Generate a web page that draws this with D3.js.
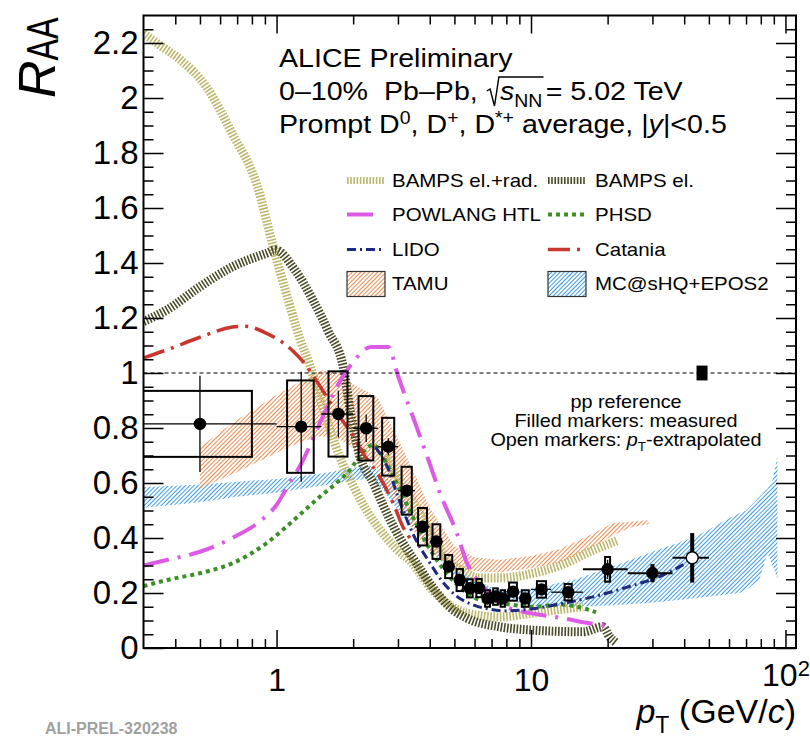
<!DOCTYPE html>
<html>
<head>
<meta charset="utf-8">
<script src="https://cdn.jsdelivr.net/npm/d3@7"></script>
<style>
  body { margin: 0; background: #fff; }
  text { font-family: "Liberation Sans", Arial, Helvetica, sans-serif; white-space: pre; }
</style>
</head>
<body>
<svg id="chart" width="810" height="739"></svg>
<script>
// ---- measured D-meson RAA (0-10%) ----
const ptLow    = [0, 1, 1.5, 2, 2.5, 3, 3.5, 4, 4.5, 5, 5.5, 6, 6.5, 7, 7.5, 8, 9, 10, 12, 16, 24, 36];
const ptHigh   = [1, 1.5, 2, 2.5, 3, 3.5, 4, 4.5, 5, 5.5, 6, 6.5, 7, 7.5, 8, 9, 10, 12, 16, 24, 36, 50];
const ptCenter = [0.5, 1.25, 1.75, 2.25, 2.75, 3.25, 3.75, 4.25, 4.75, 5.25, 5.75, 6.25, 6.75, 7.25, 7.75, 8.5, 9.5, 11, 14, 20, 30, 43];
const raaVal   = [0.815, 0.805, 0.851, 0.799, 0.732, 0.572, 0.441, 0.387, 0.296, 0.247, 0.217, 0.218, 0.18, 0.187, 0.18, 0.205, 0.18, 0.213, 0.203, 0.286, 0.272, 0.328];
const statErr  = [0.175, 0.2, 0.085, 0.05, 0.031, 0.02, 0.015, 0.012, 0.01, 0.01, 0.01, 0.01, 0.01, 0.01, 0.01, 0.01, 0.012, 0.012, 0.012, 0.035, 0.033, 0.09];
const sysErr   = [0.12, 0.168, 0.155, 0.117, 0.105, 0.087, 0.068, 0.063, 0.042, 0.04, 0.033, 0.033, 0.03, 0.03, 0.03, 0.033, 0.03, 0.03, 0.03, 0.045, 0.018, 0.02];
const extrapolated = [false, false, false, false, false, false, false, false, false, false, false, false, false, false, false, false, false, false, false, false, false, true];
const ppRefPt = 47;
const ppRefUnc = 0.027;

// ---- model curves ----
const bampsElRadPt  = [0.3, 0.35, 0.42, 0.53, 0.67, 0.84, 0.97, 1.1, 1.24, 1.35, 1.48, 1.6, 1.8, 2.0, 2.26, 2.55, 2.96, 3.4, 4.1, 4.66, 5.58, 7.5, 10.2, 13, 16];
const bampsElRadVal = [2.235, 2.19, 2.138, 2.04, 1.87, 1.68, 1.46, 1.28, 1.12, 1.03, 0.91, 0.81, 0.68, 0.59, 0.5, 0.43, 0.36, 0.31, 0.21, 0.164, 0.127, 0.113, 0.127, 0.14, 0.15];
const bampsElRadHighPt  = [2.7, 3.2, 3.7, 4.2, 4.7, 5.4, 6.2, 7.5, 10, 13, 17, 21.7];
const bampsElRadHighVal = [0.7, 0.58, 0.48, 0.39, 0.32, 0.28, 0.255, 0.255, 0.27, 0.3, 0.35, 0.39];
const bampsElPt  = [0.3, 0.37, 0.5, 0.67, 0.91, 0.99, 1.18, 1.39, 1.6, 1.83, 1.95, 2.12, 2.4, 2.62, 3.05, 3.54, 4.1, 4.79, 5.58, 7.53, 10.2, 16, 19.1, 20.4, 21.7];
const bampsElVal = [1.187, 1.229, 1.314, 1.386, 1.435, 1.447, 1.375, 1.265, 1.15, 1.02, 0.86, 0.7, 0.6, 0.52, 0.4, 0.309, 0.222, 0.149, 0.109, 0.077, 0.065, 0.059, 0.077, 0.04, 0.018];
const powlangPt  = [0.3, 0.37, 0.5, 0.67, 0.91, 1.0, 1.1, 1.25, 1.5, 1.75, 2.0, 2.35, 2.75, 3.0, 3.5, 4.0, 4.4, 5.1, 5.6, 6.7, 8, 10.2, 13, 17, 20];
const powlangVal = [0.3, 0.32, 0.35, 0.4, 0.48, 0.52, 0.585, 0.67, 0.83, 0.96, 1.04, 1.095, 1.095, 0.99, 0.82, 0.67, 0.56, 0.42, 0.31, 0.21, 0.15, 0.125, 0.11, 0.09, 0.08];
const phsdPt  = [0.3, 0.37, 0.5, 0.67, 0.91, 1.09, 1.27, 1.48, 1.72, 1.94, 2.12, 2.4, 2.6, 3.0, 3.5, 4.0, 5.0, 6.3, 8, 10.2, 13, 16, 18];
const phsdVal = [0.225, 0.247, 0.272, 0.308, 0.38, 0.44, 0.495, 0.55, 0.6, 0.647, 0.695, 0.74, 0.7, 0.59, 0.46, 0.36, 0.24, 0.175, 0.16, 0.15, 0.158, 0.145, 0.13];
const lidoPt  = [2.45, 2.75, 3.0, 3.5, 4.0, 4.5, 5.0, 6.0, 7.0, 8.0, 10, 13, 17.5, 24, 32, 41];
const lidoVal = [0.73, 0.65, 0.55, 0.4, 0.31, 0.24, 0.195, 0.155, 0.14, 0.135, 0.142, 0.16, 0.186, 0.222, 0.26, 0.31];
const cataniaPt  = [0.3, 0.37, 0.5, 0.67, 0.75, 0.91, 1.16, 1.3, 1.45, 1.7, 2.0, 2.2, 2.55, 2.87, 3.14, 3.4];
const cataniaVal = [1.055, 1.084, 1.13, 1.167, 1.17, 1.145, 1.08, 1.03, 0.965, 0.865, 0.77, 0.705, 0.62, 0.527, 0.44, 0.39];
const tamuPt = [0.5, 0.7, 1.0, 1.25, 1.5, 1.75, 2.0, 2.5, 3.0, 3.5, 4.0, 5.0, 6.0, 7.5, 10, 13, 17, 21, 25, 29];
const tamuLo = [0.58, 0.64, 0.71, 0.75, 0.77, 0.76, 0.73, 0.65, 0.52, 0.42, 0.35, 0.29, 0.28, 0.275, 0.29, 0.31, 0.36, 0.41, 0.44, 0.45];
const tamuHi = [0.73, 0.83, 0.92, 0.97, 1.01, 1.0, 0.96, 0.91, 0.76, 0.63, 0.51, 0.37, 0.33, 0.32, 0.335, 0.36, 0.41, 0.455, 0.46, 0.465];
const mcshqPt = [0.3, 0.5, 0.7, 1.0, 1.5, 2.0, 2.3, 2.6, 3.0, 3.5, 4.0, 5.0, 6.0, 7.0, 8.5, 10, 12, 15, 20, 30, 43, 50, 58, 66, 70, 79, 85, 89, 93];
const mcshqLo = [0.51, 0.53, 0.55, 0.565, 0.59, 0.61, 0.615, 0.58, 0.5, 0.43, 0.36, 0.26, 0.21, 0.185, 0.17, 0.155, 0.15, 0.15, 0.155, 0.165, 0.18, 0.186, 0.195, 0.2, 0.21, 0.25, 0.345, 0.3, 0.25];
const mcshqHi = [0.585, 0.595, 0.605, 0.615, 0.635, 0.655, 0.665, 0.64, 0.57, 0.49, 0.42, 0.3, 0.25, 0.22, 0.21, 0.215, 0.23, 0.25, 0.29, 0.35, 0.4, 0.43, 0.465, 0.49, 0.5, 0.55, 0.58, 0.61, 0.7];

// ---- axes ticks ----
const xMajor = [1, 10, 100];
const xMinor = [0.4, 0.5, 0.6, 0.7, 0.8, 0.9, 2, 3, 4, 5, 6, 7, 8, 9, 20, 30, 40, 50, 60, 70, 80, 90];
const yMajor = [0, 0.2, 0.4, 0.6, 0.8, 1, 1.2, 1.4, 1.6, 1.8, 2, 2.2];
const yMinor = d3.range(0.05, 2.3, 0.05).filter(v => Math.abs(v * 5 - Math.round(v * 5)) > 1e-6);

const svg = d3.select("#chart");
const x = d3.scaleLog().domain([0.3, 110]).range([143.5, 796]);
const y = d3.scaleLinear().domain([0, 2.3]).range([648, 15.5]);
const x0 = x.range()[0], x1 = x.range()[1], y0 = y.range()[0], y1 = y.range()[1];

const defs = svg.append("defs");
defs.append("clipPath").attr("id", "plotClip")
    .append("rect").attr("x", x0).attr("y", y1).attr("width", x1 - x0).attr("height", y0 - y1);

function hatch(id, color) {
    const p = defs.append("pattern").attr("id", id)
        .attr("patternUnits", "userSpaceOnUse")
        .attr("width", 3).attr("height", 3)
        .attr("patternTransform", "rotate(45)");
    p.append("line").attr("x1", 0).attr("y1", 0).attr("x2", 0).attr("y2", 3)
        .attr("stroke", color).attr("stroke-width", 2);
}
hatch("hatchTamu", "#ef8a4c");
hatch("hatchMc", "#3d9ce6");

const plot = svg.append("g").attr("clip-path", "url(#plotClip)");

// bands
function band(pts, lo, hi, fill) {
    const rows = pts.map((p, i) => ({ p, lo: lo[i], hi: hi[i] }));
    plot.append("path").datum(rows)
        .attr("d", d3.area().x(d => x(d.p)).y0(d => y(d.lo)).y1(d => y(d.hi)))
        .attr("fill", fill);
}
band(mcshqPt, mcshqLo, mcshqHi, "url(#hatchMc)");
band(tamuPt, tamuLo, tamuHi, "url(#hatchTamu)");

// lines
const styles = {
    bampsElRad: { stroke: "#bdb76b", width: 9, dash: "1.6,1.6" },
    bampsEl:    { stroke: "#4a4a28", width: 9, dash: "1.6,1.6" },
    powlang:    { stroke: "#dd5ae6", width: 4, dash: "26,9,3,9" },
    phsd:       { stroke: "#3b8f23", width: 4, dash: "4,4" },
    lido:       { stroke: "#1c2a80", width: 3, dash: "9,4,2,4" },
    catania:    { stroke: "#c8372d", width: 3.5, dash: "22,7,3,7" }
};
function curve(pts, vals, st) {
    const rows = pts.map((p, i) => ({ p, v: vals[i] }));
    plot.append("path").datum(rows)
        .attr("d", d3.line().x(d => x(d.p)).y(d => y(d.v)).curve(d3.curveMonotoneX))
        .attr("fill", "none").attr("stroke", st.stroke)
        .attr("stroke-width", st.width).attr("stroke-dasharray", st.dash);
}
curve(bampsElRadPt, bampsElRadVal, styles.bampsElRad);
curve(bampsElRadHighPt, bampsElRadHighVal, styles.bampsElRad);
curve(bampsElPt, bampsElVal, styles.bampsEl);
curve(powlangPt, powlangVal, styles.powlang);
curve(phsdPt, phsdVal, styles.phsd);
curve(lidoPt, lidoVal, styles.lido);
curve(cataniaPt, cataniaVal, styles.catania);

// unity line
plot.append("line").attr("x1", x0).attr("x2", x1).attr("y1", y(1)).attr("y2", y(1))
    .attr("stroke", "#000").attr("stroke-width", 1).attr("stroke-dasharray", "4,3");

// pp normalisation box
plot.append("rect").attr("x", x(ppRefPt) - 5.5).attr("width", 11)
    .attr("y", y(1 + ppRefUnc)).attr("height", y(1 - ppRefUnc) - y(1 + ppRefUnc))
    .attr("fill", "#000");

// data points
const points = ptCenter.map((p, i) => ({
    p, lo: ptLow[i], hi: ptHigh[i], v: raaVal[i], stat: statErr[i], sys: sysErr[i], open: extrapolated[i]
}));
const dataG = plot.append("g");
points.forEach(d => {
    const half = Math.min(0.3 * (d.hi - d.lo), 0.45);
    const bl = Math.max(d.p - half, 0.2);
    dataG.append("rect")
        .attr("x", x(bl)).attr("width", x(d.p + half) - x(bl))
        .attr("y", y(d.v + d.sys)).attr("height", y(d.v - d.sys) - y(d.v + d.sys))
        .attr("fill", "none").attr("stroke", "#000").attr("stroke-width", 2);
    dataG.append("line")
        .attr("x1", x(Math.max(d.lo, 0.3))).attr("x2", x(d.hi))
        .attr("y1", y(d.v)).attr("y2", y(d.v))
        .attr("stroke", "#000").attr("stroke-width", d.p > 15 ? 2 : 1.3);
    dataG.append("line")
        .attr("x1", x(d.p)).attr("x2", x(d.p))
        .attr("y1", y(d.v - d.stat)).attr("y2", y(d.v + d.stat))
        .attr("stroke", "#000").attr("stroke-width", d.p > 25 ? 4 : 1.3);
    dataG.append("circle")
        .attr("cx", x(d.p)).attr("cy", y(d.v)).attr("r", d.open ? 6 : 5.5)
        .attr("fill", d.open ? "#fff" : "#000")
        .attr("stroke", "#000").attr("stroke-width", 1.5);
});

// axes
function styleAxis(g) {
    g.select(".domain").remove();
    g.selectAll(".tick line").attr("stroke", "#000").attr("stroke-width", 1.5);
}
const noLabel = () => "";
svg.append("g").attr("transform", `translate(0,${y0})`)
    .call(d3.axisBottom(x).tickValues(xMajor).tickSize(-18).tickPadding(20)
        .tickFormat(d => d === 100 ? "10" : String(d)))
    .call(styleAxis)
    .call(g => g.selectAll("text").attr("font-size", 32).attr("fill", "#000")
        .attr("font-family", '"Liberation Sans", Arial, sans-serif'))
    .call(g => g.selectAll(".tick").filter(d => d === 100).select("text")
        .attr("y", 15)
        .append("tspan").attr("dy", "-0.42em").attr("font-size", 22).text("2"));
svg.append("g").attr("transform", `translate(0,${y0})`)
    .call(d3.axisBottom(x).tickValues(xMinor).tickSize(-9).tickFormat(noLabel)).call(styleAxis);
svg.append("g").attr("transform", `translate(0,${y1})`)
    .call(d3.axisTop(x).tickValues(xMajor).tickSize(-18).tickFormat(noLabel)).call(styleAxis);
svg.append("g").attr("transform", `translate(0,${y1})`)
    .call(d3.axisTop(x).tickValues(xMinor).tickSize(-9).tickFormat(noLabel)).call(styleAxis);

svg.append("g").attr("transform", `translate(${x0},0)`)
    .call(d3.axisLeft(y).tickValues(yMajor).tickSize(-20).tickPadding(5)
        .tickFormat(d => String(+d.toFixed(1))))
    .call(styleAxis)
    .call(g => g.selectAll("text").attr("font-size", 33).attr("fill", "#000")
        .attr("font-family", '"Liberation Sans", Arial, sans-serif'));
svg.append("g").attr("transform", `translate(${x0},0)`)
    .call(d3.axisLeft(y).tickValues(yMinor).tickSize(-10).tickFormat(noLabel)).call(styleAxis);
svg.append("g").attr("transform", `translate(${x1},0)`)
    .call(d3.axisRight(y).tickValues(yMajor).tickSize(-20).tickFormat(noLabel)).call(styleAxis);
svg.append("g").attr("transform", `translate(${x1},0)`)
    .call(d3.axisRight(y).tickValues(yMinor).tickSize(-10).tickFormat(noLabel)).call(styleAxis);

svg.append("rect").attr("x", x0).attr("y", y1).attr("width", x1 - x0).attr("height", y0 - y1)
    .attr("fill", "none").attr("stroke", "#000").attr("stroke-width", 2);

// rich text helper: parts {t, italic, sub, sup}
function richText(parent, px, py, size, sx, parts, anchor) {
    const g = parent.append("g").attr("transform", `translate(${px},${py}) scale(${sx},1)`);
    const txt = g.append("text").attr("font-size", size).attr("fill", "#000")
        .attr("text-anchor", anchor || "start");
    let shift = 0;
    parts.forEach(p => {
        const target = p.sub ? size * 0.28 : p.sup ? -size * 0.36 : 0;
        const ts = txt.append("tspan").attr("dy", target - shift).text(p.t);
        shift = target;
        if (p.sub || p.sup) ts.attr("font-size", size * 0.68);
        if (p.italic) ts.attr("font-style", "italic");
    });
    return { g, txt };
}

// header block
const hs = 26, hsx = 1.1;
richText(svg, 279, 67, hs, hsx, [{ t: "ALICE Preliminary" }]);
{
    const first = richText(svg, 279, 100, hs, hsx, [{ t: "0\u201310%  Pb\u2013Pb, " }]);
    const w1 = first.txt.node().getComputedTextLength();
    const sPart = first.g.append("text").attr("x", w1 + 13).attr("font-size", hs);
    sPart.append("tspan").attr("font-style", "italic").text("s");
    sPart.append("tspan").attr("dy", hs * 0.25).attr("font-size", hs * 0.68).text("NN");
    const wS = sPart.node().getComputedTextLength();
    first.g.append("path")
        .attr("d", `M${w1 + 1},-9 L${w1 + 4},-11 L${w1 + 8},6 L${w1 + 12},-23 L${w1 + 14 + wS},-23`)
        .attr("fill", "none").attr("stroke", "#000").attr("stroke-width", 1.3);
    first.g.append("text").attr("x", w1 + 16 + wS).attr("font-size", hs).text("= 5.02 TeV");
}
richText(svg, 279, 133, hs, hsx, [
    { t: "Prompt D" }, { t: "0", sup: true }, { t: ", D" }, { t: "+", sup: true },
    { t: ", D" }, { t: "*+", sup: true }, { t: " average, |" }, { t: "y", italic: true }, { t: "|<0.5" }
]);

// legend
const legend = svg.append("g");
const legRows = [
    [{ key: "bampsElRad", label: "BAMPS el.+rad." }, { key: "bampsEl", label: "BAMPS el." }],
    [{ key: "powlang", label: "POWLANG HTL" }, { key: "phsd", label: "PHSD" }],
    [{ key: "lido", label: "LIDO" }, { key: "catania", label: "Catania" }],
    [{ key: "tamu", label: "TAMU", fill: "url(#hatchTamu)" }, { key: "mcshq", label: "MC@sHQ+EPOS2", fill: "url(#hatchMc)" }]
];
const legBase = [187, 221, 256, 290];
const legSymX = [347, 548];
const legTextX = [392, 595];
legRows.forEach((row, r) => {
    row.forEach((e, c) => {
        const cy = legBase[r] - 6.5;
        if (e.fill) {
            legend.append("rect").attr("x", legSymX[c]).attr("y", cy - 12).attr("width", 38).attr("height", 25)
                .attr("fill", e.fill).attr("stroke", "#333").attr("stroke-width", 1.2);
        } else {
            const st = styles[e.key];
            const len = e.key === "powlang" ? 26 : 38;
            legend.append("line").attr("x1", legSymX[c]).attr("x2", legSymX[c] + len)
                .attr("y1", cy).attr("y2", cy)
                .attr("stroke", st.stroke).attr("stroke-width", st.width > 8 ? 7 : st.width)
                .attr("stroke-dasharray", st.dash);
        }
        richText(legend, legTextX[c], legBase[r], 18.6, 1.1, [{ t: e.label }]);
    });
});

// pp reference notes
richText(svg, 626, 408, 18, 1.1, [{ t: "pp reference" }], "middle");
richText(svg, 626, 427, 18, 1.1, [{ t: "Filled markers: measured" }], "middle");
richText(svg, 626, 446, 18, 1.1, [
    { t: "Open markers: " }, { t: "p", italic: true }, { t: "T", sub: true }, { t: "-extrapolated" }
], "middle");

// axis titles
{
    const g = svg.append("g").attr("transform", "translate(55,98) rotate(-90)");
    const t = g.append("text").attr("fill", "#000");
    t.append("tspan").attr("font-size", 52).attr("font-style", "italic").text("R");
    t.append("tspan").attr("font-size", 44).attr("dy", 3)
        .attr("textLength", 43).attr("lengthAdjust", "spacingAndGlyphs").text("AA");
}
richText(svg, 796, 723, 34, 1, [
    { t: "p", italic: true }, { t: "T", sub: true }, { t: " (GeV/" }, { t: "c", italic: true }, { t: ")" }
], "end");

svg.append("text").attr("x", 45).attr("y", 734)
    .attr("font-family", '"Liberation Mono", "DejaVu Sans Mono", monospace')
    .attr("font-weight", "bold").attr("font-size", 16).attr("fill", "#a0a0a0")
    .text("ALI-PREL-320238");
</script>
</body>
</html>
